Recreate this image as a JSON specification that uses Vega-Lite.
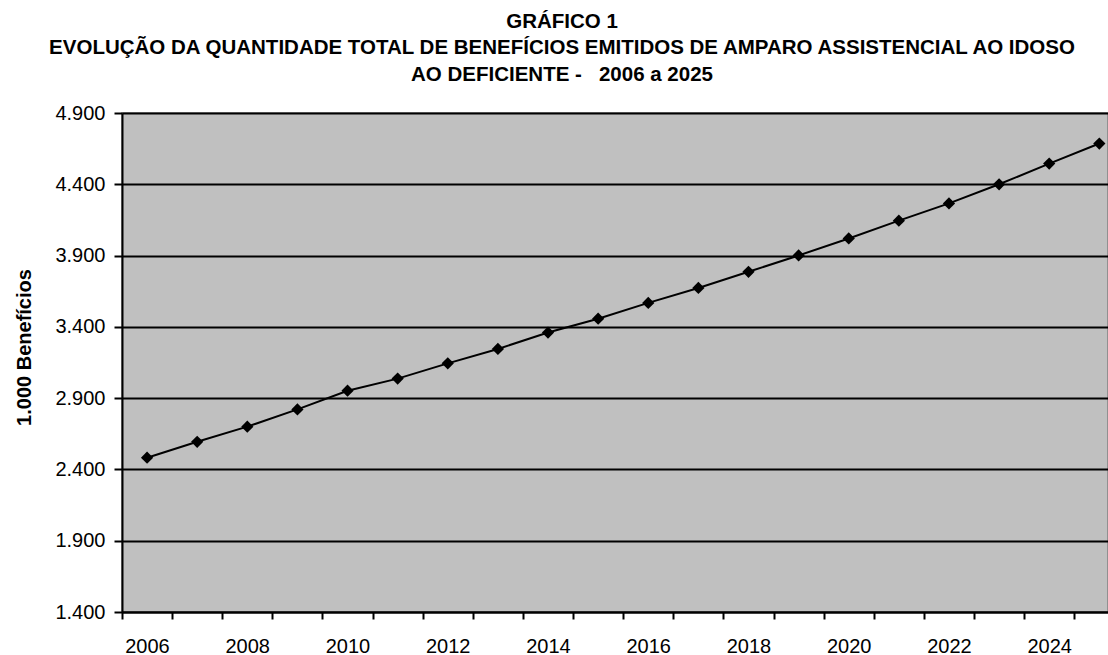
{
  "$schema": "https://vega.github.io/schema/vega-lite/v6.json",
  "autosize": "none",
  "width": 986,
  "height": 499,
  "padding": {"left": 122, "top": 113, "right": 0, "bottom": 43},
  "background": "white",
  "config": {
    "font": "Liberation Sans",
    "view": {"fill": "#c0c0c0", "stroke": "#808080", "strokeWidth": 1.5}
  },
  "title": {
    "text": ["GRÁFICO 1", "EVOLUÇÃO DA QUANTIDADE TOTAL DE BENEFÍCIOS EMITIDOS DE AMPARO ASSISTENCIAL AO IDOSO", "AO DEFICIENTE -\u00a0\u00a0 2006 a 2025"],
    "font": "Liberation Sans",
    "fontSize": 20.5,
    "fontWeight": "bold",
    "lineHeight": 26.5,
    "color": "black",
    "anchor": "middle",
    "frame": "group",
    "dx": -53,
    "offset": 18
  },
  "data": {
    "values": [
      {"ano": 2006, "beneficios": 2482},
      {"ano": 2007, "beneficios": 2594},
      {"ano": 2008, "beneficios": 2700},
      {"ano": 2009, "beneficios": 2821},
      {"ano": 2010, "beneficios": 2952},
      {"ano": 2011, "beneficios": 3037},
      {"ano": 2012, "beneficios": 3144},
      {"ano": 2013, "beneficios": 3245},
      {"ano": 2014, "beneficios": 3360},
      {"ano": 2015, "beneficios": 3457},
      {"ano": 2016, "beneficios": 3568},
      {"ano": 2017, "beneficios": 3673},
      {"ano": 2018, "beneficios": 3786},
      {"ano": 2019, "beneficios": 3901},
      {"ano": 2020, "beneficios": 4020},
      {"ano": 2021, "beneficios": 4145},
      {"ano": 2022, "beneficios": 4266},
      {"ano": 2023, "beneficios": 4400},
      {"ano": 2024, "beneficios": 4545},
      {"ano": 2025, "beneficios": 4686}
    ]
  },
  "encoding": {
    "x": {
      "field": "ano",
      "type": "quantitative",
      "scale": {"domain": [2005.5, 2025.173], "nice": false, "zero": false},
      "axis": {
        "title": null,
        "values": [2005.5, 2006.5, 2007.5, 2008.5, 2009.5, 2010.5, 2011.5, 2012.5, 2013.5, 2014.5, 2015.5, 2016.5, 2017.5, 2018.5, 2019.5, 2020.5, 2021.5, 2022.5, 2023.5, 2024.5],
        "labelExpr": "((datum.value + 0.5) % 2 == 0) ? format(datum.value + 0.5, 'd') : ''",
        "labelOffset": 25,
        "labelFlush": false,
        "labelOverlap": false,
        "labelFontSize": 20,
        "labelColor": "black",
        "labelPadding": 17,
        "labelBaseline": "top",
        "domainColor": "black",
        "domainWidth": 2,
        "tickColor": "black",
        "tickWidth": 2,
        "tickSize": 7,
        "grid": false
      }
    },
    "y": {
      "field": "beneficios",
      "type": "quantitative",
      "scale": {"domain": [1400, 4900], "nice": false, "zero": false},
      "axis": {
        "title": "1.000 Benefícios",
        "titleFontSize": 20,
        "titleFontWeight": "bold",
        "titleColor": "black",
        "titleAngle": -90,
        "titleX": -98,
        "titleY": 234,
        "titleAlign": "center",
        "titleBaseline": "middle",
        "values": [1400, 1900, 2400, 2900, 3400, 3900, 4400, 4900],
        "labelExpr": "replace(format(datum.value, ','), ',', '.')",
        "labelFontSize": 20,
        "labelColor": "black",
        "labelPadding": 9,
        "domainColor": "black",
        "domainWidth": 2,
        "tickColor": "black",
        "tickWidth": 2,
        "tickSize": 8,
        "grid": true,
        "gridColor": "black",
        "gridWidth": 2,
        "gridOpacity": 1
      }
    }
  },
  "layer": [
    {"mark": {"type": "line", "color": "black", "strokeWidth": 2}},
    {"mark": {"type": "point", "shape": "diamond", "filled": true, "color": "black", "opacity": 1, "size": 150}}
  ]
}
